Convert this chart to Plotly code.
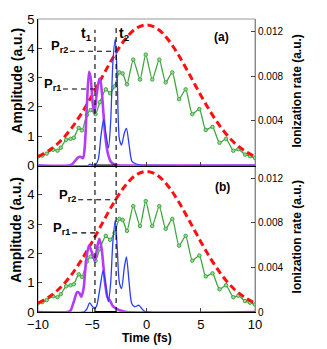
import plotly.graph_objects as go

# ---- data ----
# laser envelope (red dashed), amplitude a.u.
env_t = [-10, -9, -8, -7, -6, -5, -4, -3, -2, -1, 0, 1, 2, 3, 4, 5, 6, 7, 8, 9, 10]
env_a = [0.30, 0.51, 0.81, 1.23, 1.77, 2.40, 3.08, 3.74, 4.29, 4.67, 4.80,
         4.67, 4.29, 3.74, 3.08, 2.40, 1.77, 1.23, 0.81, 0.51, 0.30]

# ionization rate (green, right axis) - same in both panels
ion_t = [-10.0, -9.6, -9.2, -8.6, -8.2, -7.9, -7.4, -7.0, -6.7, -6.25, -5.95, -5.5,
         -5.15, -4.7, -4.3, -3.75, -3.35, -2.95, -2.5, -2.2, -1.8, -1.22, -0.6,
         -0.07, 0.53, 1.18, 1.77, 2.38, 3.0, 3.61, 4.22, 4.87, 5.46, 6.08, 6.73,
         7.33, 8.0, 8.46, 9.08, 9.54, 10.0]
ion_r = [0.00080, 0.00089, 0.00107, 0.00142, 0.00133, 0.00160, 0.00231, 0.00240,
         0.00249, 0.00338, 0.00316, 0.00453, 0.00498, 0.00462, 0.00569, 0.00684,
         0.00649, 0.00711, 0.00836, 0.00827, 0.00729, 0.00951, 0.00773, 0.00996,
         0.00773, 0.00951, 0.00747, 0.00836, 0.00596, 0.00684, 0.00462, 0.00507,
         0.00320, 0.00347, 0.00204, 0.00240, 0.00133, 0.00147, 0.00098, 0.00084,
         0.00067]

# panel (a)
pa_t = [-10, -7.2, -6.9, -6.6, -6.3, -6.1, -5.85, -5.7, -5.5, -5.3, -5.15, -4.95,
        -4.8, -4.6, -4.35, -4.2, -3.95, -3.8, -3.6, -3.3, -3.0, -2.6, -2.0, 10]
pa_a = [0, 0, 0.03, 0.15, 0.28, 0.30, 0.25, 0.6, 2.0, 3.2, 3.0, 2.1,
        1.78, 2.4, 2.97, 2.8, 1.7, 1.0, 0.48, 0.14, 0.05, 0.01, 0, 0]
ba_t = [-10, -5.4, -5.2, -5.0, -4.7, -4.45, -4.2, -3.95, -3.75, -3.5, -3.3, -3.1,
        -2.88, -2.7, -2.5, -2.3, -2.05, -1.85, -1.6, -1.35, -1.0, -0.5, 0, 10]
ba_a = [0, 0, 0.05, 0.02, 0.03, 0.2, 1.0, 1.58, 1.1, 0.6, 1.5, 3.5,
        4.3, 3.0, 0.9, 0.7, 1.1, 1.27, 0.7, 0.15, 0.06, 0.01, 0, 0]

# panel (b)
pb_t = [-10, -7.3, -7.0, -6.7, -6.4, -6.2, -6.0, -5.8, -5.55, -5.3, -5.1, -4.75,
        -4.55, -4.35, -4.15, -3.85, -3.6, -3.35, -3.1, -2.7, -2.3, -1.8, 10]
pb_a = [0, 0, 0.05, 0.35, 0.68, 0.65, 0.52, 0.8, 1.8, 2.28, 2.1, 1.76,
        2.2, 2.5, 2.2, 1.1, 0.5, 0.38, 0.2, 0.1, 0.04, 0, 0]
bb_t = [-10, -5.8, -5.5, -5.25, -5.0, -4.8, -4.6, -4.3, -4.0, -3.75, -3.52, -3.3,
        -3.1, -2.88, -2.7, -2.5, -2.3, -2.05, -1.85, -1.6, -1.37, -1.1, -0.7,
        -0.4, -0.1, 10]
bb_a = [0, 0, 0.1, 0.31, 0.2, 0.12, 0.2, 0.8, 1.42, 0.9, 0.35, 1.0,
        2.4, 3.12, 2.2, 1.0, 0.8, 1.5, 1.88, 1.0, 0.3, 0.18, 0.23,
        0.1, 0.01, 0]

t1, t2 = -4.75, -2.8
pr_a = {"r1": 2.61, "r2": 3.9}
pr_b = {"r1": 2.7, "r2": 3.83}

FONT = "Arial, Liberation Sans, Helvetica, sans-serif"
RED = "#ff1010"
GREEN = "#3fa53f"
PURPLE = "#b43cf5"
BLUE = "#2a3cff"

fig = go.Figure()

# (xaxis, base y right = ionization, overlay y left = amplitude)
panels = [("x", "y", "y2", pb_t, pb_a, bb_t, bb_a),
          ("x2", "y3", "y4", pa_t, pa_a, ba_t, ba_a)]

for xa, yr, yl, p_t, p_a, b_t, b_a in panels:
    fig.add_trace(go.Scatter(x=ion_t, y=ion_r, xaxis=xa, yaxis=yr, mode="lines+markers",
                             line=dict(color=GREEN, width=1.3, shape="spline", smoothing=0.6),
                             marker=dict(size=3.5, color="#9bd89b", line=dict(color=GREEN, width=1))))
    fig.add_trace(go.Scatter(x=env_t, y=env_a, xaxis=xa, yaxis=yl, mode="lines",
                             line=dict(color=RED, width=3, dash="7px,4px", shape="spline")))
    fig.add_trace(go.Scatter(x=p_t, y=p_a, xaxis=xa, yaxis=yl, mode="lines",
                             line=dict(color=PURPLE, width=2.6, shape="spline", smoothing=0.7)))
    fig.add_trace(go.Scatter(x=b_t, y=b_a, xaxis=xa, yaxis=yl, mode="lines",
                             line=dict(color=BLUE, width=1.3, shape="spline", smoothing=0.7)))

axis_common = dict(ticks="inside", ticklen=4, showline=True, linewidth=1,
                   showgrid=False, zeroline=False)
tick13 = dict(family=FONT, size=13, color="black")
tick10 = dict(family=FONT, size=10, color="black")
rate_max = 0.01316

fig.update_layout(
    width=327, height=349,
    margin=dict(l=38, r=72, t=17, b=37),
    plot_bgcolor="white", paper_bgcolor="white",
    showlegend=False,
    font=dict(family=FONT, color="black"),
    xaxis=dict(domain=[0, 1], anchor="y", range=[-10, 10], tickvals=[-10, -5, 0, 5, 10],
               linecolor="black", tickfont=tick13, **axis_common),
    xaxis2=dict(domain=[0, 1], anchor="y3", range=[-10, 10], tickvals=[-10, -5, 0, 5, 10],
                showticklabels=False, linecolor="black", matches="x", **axis_common),
    yaxis=dict(domain=[0, 0.5], anchor="x", side="right", range=[0, rate_max],
               tickvals=[0, 0.004, 0.008, 0.012], ticktext=["0", "0.004", "0.008", "0.012"],
               linecolor="#888888", tickfont=tick10, **axis_common),
    yaxis2=dict(overlaying="y", anchor="x", side="left", range=[0, 5],
                tickvals=[0, 1, 2, 3, 4], linecolor="black", tickfont=tick13, **axis_common),
    yaxis3=dict(domain=[0.5, 1], anchor="x2", side="right", range=[0, rate_max],
                tickvals=[0.004, 0.008, 0.012], ticktext=["0.004", "0.008", "0.012"],
                linecolor="#888888", tickfont=tick10, **axis_common),
    yaxis4=dict(overlaying="y3", anchor="x2", side="left", range=[0, 5],
                tickvals=[0, 1, 2, 3, 4, 5], linecolor="black", tickfont=tick13, **axis_common),
)

dash_k = dict(color="black", width=1.1, dash="5px,4px")
shapes = [
    dict(type="rect", xref="paper", yref="paper", x0=0, x1=1, y0=0.5, y1=1,
         line=dict(color="#999999", width=1), layer="below"),
    dict(type="rect", xref="paper", yref="paper", x0=0, x1=1, y0=0, y1=0.5,
         line=dict(color="#999999", width=1), layer="below"),
    # t1 / t2 markers across both panels
    dict(type="line", xref="x", yref="paper", x0=t1, x1=t1, y0=0, y1=0.963, line=dash_k),
    dict(type="line", xref="x", yref="paper", x0=t2, x1=t2, y0=0, y1=0.978, line=dash_k),
    # P_r guides
    dict(type="line", xref="x", yref="y4", x0=-7.05, x1=t2, y0=pr_a["r2"], y1=pr_a["r2"], line=dash_k),
    dict(type="line", xref="x", yref="y4", x0=-7.7, x1=t1, y0=pr_a["r1"], y1=pr_a["r1"], line=dash_k),
    dict(type="line", xref="x", yref="y2", x0=-6.3, x1=t2, y0=pr_b["r2"], y1=pr_b["r2"], line=dash_k),
    dict(type="line", xref="x", yref="y2", x0=-6.85, x1=t1, y0=pr_b["r1"], y1=pr_b["r1"], line=dash_k),
    # solid baseline between t1 and t2
    dict(type="line", xref="x", yref="y4", x0=t1, x1=t2, y0=0, y1=0, line=dict(color="black", width=2)),
    dict(type="line", xref="x", yref="y2", x0=t1, x1=t2, y0=0, y1=0, line=dict(color="black", width=2)),
]
fig.update_layout(shapes=shapes)

lab = dict(family=FONT, size=13, color="black")
amp_f = dict(family=FONT, size=14, color="black")
ion_f = dict(family=FONT, size=12, color="black")
rot = dict(xref="paper", yref="paper", showarrow=False, textangle=-90,
           xanchor="center", yanchor="middle")
ann = [
    # axis titles
    dict(text="<b>Time (fs)</b>", xref="paper", yref="paper", x=0.5, y=-0.058,
         showarrow=False, xanchor="center", yanchor="top",
         font=dict(family=FONT, size=12, color="black")),
    dict(text="<b>Amplitude (a.u.)</b>", x=-0.101, y=0.79, font=amp_f, **rot),
    dict(text="<b>Amplitude (a.u.)</b>", x=-0.101, y=0.281, font=amp_f, **rot),
    dict(text="<b>Ionization rate (a.u.)</b>", x=1.194, y=0.753, font=ion_f, **rot),
    dict(text="<b>Ionization rate (a.u.)</b>", x=1.194, y=0.255, font=ion_f, **rot),
    # panel tags
    dict(text="<b>(a)</b>", xref="x", yref="y4", x=6.9, y=4.39, showarrow=False,
         font=dict(family=FONT, size=12, color="black")),
    dict(text="<b>(b)</b>", xref="x", yref="y2", x=7.05, y=4.28, showarrow=False,
         font=dict(family=FONT, size=12, color="black")),
    # t labels
    dict(text="<b>t<sub>1</sub></b>", xref="x", yref="y4", x=t1 - 0.1, y=4.5,
         xanchor="right", showarrow=False, font=dict(family=FONT, size=14, color="black")),
    dict(text="<b>t<sub>2</sub></b>", xref="x", yref="y4", x=t2 + 0.1, y=4.5,
         xanchor="left", showarrow=False, font=dict(family=FONT, size=14, color="black")),
    # P labels
    dict(text="<b>P<sub>r2</sub></b>", xref="x", yref="y4", x=-7.05, y=pr_a["r2"] + 0.15,
         xanchor="right", showarrow=False, font=lab),
    dict(text="<b>P<sub>r1</sub></b>", xref="x", yref="y4", x=-7.7, y=pr_a["r1"] + 0.15,
         xanchor="right", showarrow=False, font=lab),
    dict(text="<b>P<sub>r2</sub></b>", xref="x", yref="y2", x=-6.3, y=pr_b["r2"] + 0.15,
         xanchor="right", showarrow=False, font=lab),
    dict(text="<b>P<sub>r1</sub></b>", xref="x", yref="y2", x=-6.85, y=pr_b["r1"] + 0.15,
         xanchor="right", showarrow=False, font=lab),
]
fig.update_layout(annotations=ann)

# the page body has a default 8px margin; drop it so the figure sits at 0,0
fig.write_html("out.html", config={"displayModeBar": False},
               post_script="document.body.style.margin='0';document.body.style.overflow='hidden';")
